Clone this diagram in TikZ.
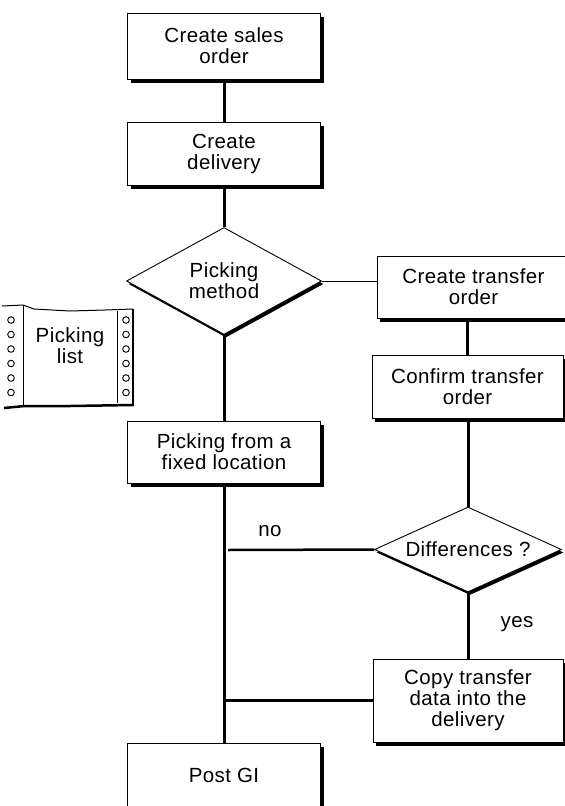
\documentclass[tikz,border=0pt]{standalone}
\usepackage{fontspec}
\setmainfont{Liberation Sans}[LetterSpace=2]
\usetikzlibrary{shapes.geometric,shadows}
\begin{document}
\begin{tikzpicture}[x=1pt,y=-1pt,
  txt/.style={font=\fontsize{20.5}{21}\selectfont},
  box/.style={draw, line width=1pt, fill=white, minimum width=193pt, minimum height=62pt,
    inner sep=0pt, align=center, txt,
    drop shadow={shadow xshift=3pt, shadow yshift=-3.5pt, fill=black, opacity=1}},
  dec/.style={diamond, draw, line width=0.9pt, fill=white, inner sep=0pt, align=center, txt,
    drop shadow={shadow xshift=2pt, shadow yshift=-3pt, fill=black, opacity=1}},
  lbl/.style={inner sep=0pt, txt},
  conn/.style={line width=3pt},
  midc/.style={line width=2.5pt},
  thinc/.style={line width=1pt}]
\useasboundingbox[fill=white] (0,0) rectangle (565,806);

% left column
\node[box, minimum height=66pt] (sales) at (224,46) {Create sales\\order};
\node[box, minimum height=63pt] (deliv) at (224,153.5) {Create\\delivery};
\node[dec, minimum width=195pt, minimum height=107pt, shape aspect=1.8] (pm) at (224,281) {Picking\\method};
\node[box] (pfl) at (224,452) {Picking from a\\fixed location};
\node[box, minimum height=64pt] (post) at (224,775) {Post GI};

% right column
\node[box] (cto) at (473.5,287) {Create transfer\\order};
\node[box, minimum width=191pt, minimum height=63pt] (conf) at (467.5,386.5) {Confirm transfer\\order};
\node[dec, minimum width=187pt, minimum height=85pt, shape aspect=2.2] (diff) at (468,549.5) {Differences ?};
\node[box, minimum width=190pt, minimum height=83pt] (copy) at (468,700.5) {Copy transfer\\data into the\\delivery};

% labels
\node[lbl] (no) at (270,531) {no};
\node[lbl] (yes) at (517,624) {yes};

% connectors
\draw[conn] (sales.south) -- (deliv.north);
\draw[conn] (deliv.south) -- (pm.north);
\draw[conn] (pm.south) -- (pfl.north);
\draw[conn] (pfl.south) -- (post.north);
\draw[thinc] (pm.east) -- (pm.east -| cto.west);
\draw[conn] (conf.north |- cto.south) -- (conf.north);
\draw[conn] (diff.north |- conf.south) -- (diff.north);
\draw[conn] (diff.south) -- (diff.south |- copy.north);
\coordinate (noend) at (228,550);
\draw[midc] (diff.west) -- (noend);
\draw[midc] (copy.west) -- (copy.west -| post.north);

% picking list document
\draw[line width=1pt] (2,306) -- (23,305) -- (34,309) -- (70,311) -- (105,310) -- (133,309);
\draw[line width=1pt] (23,305) -- (23,406);
\draw[line width=1pt] (117,311) -- (117,403);
\draw[line width=2.5pt] (133,309) -- (133,406);
\draw[line width=2.5pt] (4,408) -- (25,406) -- (70,406) -- (133,405);
\foreach \yy in {320,334.5,349,363.5,378,392.5} {
  \draw[line width=0.9pt] (11,\yy) circle[radius=3.3pt];
  \draw[line width=0.9pt] (126,\yy) circle[radius=3.3pt];
}
\node[txt, align=center, inner sep=0pt] (plist) at (70,346) {Picking\\list};
\end{tikzpicture}
\end{document}
